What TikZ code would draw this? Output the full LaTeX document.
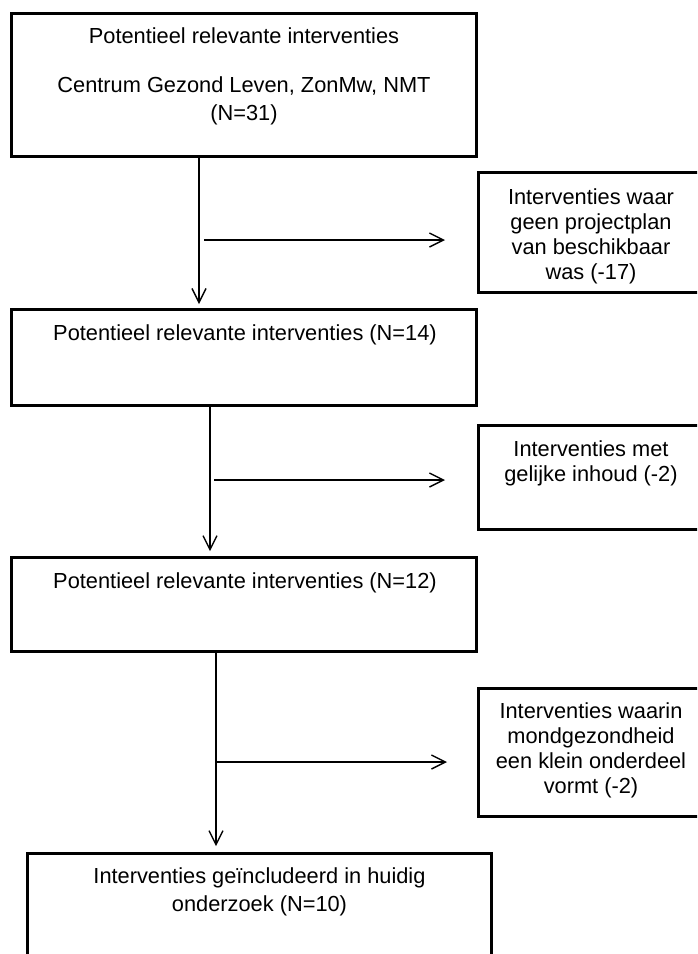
\documentclass[tikz,border=0pt]{standalone}
\usepackage{fontspec}
\setmainfont{Liberation Sans}
\usetikzlibrary{arrows.meta}

\begin{document}
\begin{tikzpicture}[x=0.5pt, y=-0.5pt, >={Straight Barb[length=7pt,width=7pt]},
    box/.style={draw, line width=1.5pt, inner sep=0pt, minimum width=232.5pt},
    side/.style={draw, line width=1.5pt, inner sep=0pt, minimum width=112.5pt},
    txt/.style={font=\fontsize{10.9}{14}\selectfont, align=center, anchor=north, inner sep=0pt},
    sidetxt/.style={txt, font=\fontsize{10.9}{12.5}\selectfont},
    flow/.style={->, line width=0.7pt}]
    \useasboundingbox (0,0) rectangle (697,954);
    \clip (0,0) rectangle (697,954);

    % main column
    \node[box, minimum height=71.5pt] (b1) at (244,85) {};
    \node[box, minimum height=48pt] (b3) at (244,357.5) {};
    \node[box, minimum height=47pt] (b5) at (244,604.5) {};
    \node[box, minimum width=232pt, minimum height=73.25pt] (b7) at (259.5,926.75) {};

    \node[txt] (t1) at (244,27) {Potentieel relevante interventies\\[10.5pt]Centrum Gezond Leven, ZonMw, NMT\\(N=31)};
    \node[txt] (t3) at (245,324) {Potentieel relevante interventies (N=14)};
    \node[txt] (t5) at (245,572) {Potentieel relevante interventies (N=12)};
    \node[txt] (t7) at (259.5,867) {Interventies geïncludeerd in huidig\\onderzoek (N=10)};

    % excluded
    \node[side, minimum height=60.25pt] (r1) at (591,232.25) {};
    \node[side, minimum height=52pt] (r2) at (591,477.5) {};
    \node[side, minimum height=64pt] (r3) at (591,752.5) {};

    \node[sidetxt] (s1) at (591,188) {Interventies waar\\geen projectplan\\van beschikbaar\\was (-17)};
    \node[sidetxt] (s2) at (591,440) {Interventies met\\gelijke inhoud (-2)};
    \node[sidetxt] (s3) at (591,702) {Interventies waarin\\mondgezondheid\\een klein onderdeel\\vormt (-2)};

    \coordinate (f1) at (199,240);
    \coordinate (f2) at (210,480);
    \coordinate (f3) at (216,762);

    \draw[flow, shorten >=2pt] (b1.south -| f1) -- (b3.north -| f1);
    \draw[flow, shorten >=16pt] ([xshift=2.5pt]f1) -- (f1 -| r1.west);
    \draw[flow, shorten >=2.4pt] (b3.south -| f2) -- (b5.north -| f2);
    \draw[flow, shorten >=16pt] ([xshift=2pt]f2) -- (f2 -| r2.west);
    \draw[flow, shorten >=2.9pt] (b5.south -| f3) -- (b7.north -| f3);
    \draw[flow, shorten >=15pt] ([xshift=0.5pt]f3) -- (f3 -| r3.west);
\end{tikzpicture}
\end{document}
